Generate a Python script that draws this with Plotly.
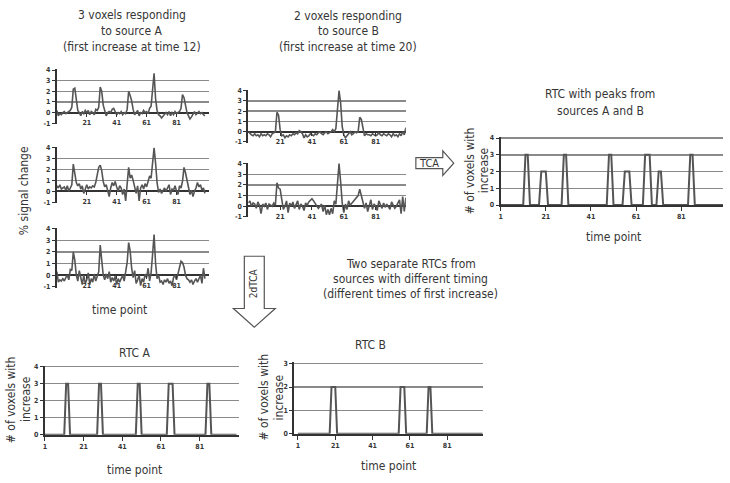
import plotly.graph_objects as go

W, H = 730, 483
FONT = "Liberation Sans Narrow, DejaVu Sans Condensed, Arial Narrow, sans-serif"
TXT = "#363636"
LINE = "#555555"
GRID = "#8a8a8a"
AX = "#333333"

time = list(range(1, 101))

voxel_a1 = [0.2, -0.3, -0.1, -0.2, 0.0, 0.1, -0.1, 0.0, 0.1, 0.2,
            0.5, 2.2, 2.3, 0.9, 0.2, 0.0, -0.3, 0.1, -0.1, 0.2,
            0.0, 0.2, -0.2, 0.1, 0.0, -0.2, 0.3, 0.2, 0.5, 2.4,
            2.0, 0.7, 0.1, -0.3, 0.0, 0.1, 0.0, 0.3, 0.4, 0.1,
            -0.2, 0.0, -0.1, 0.1, -0.2, 0.0, -0.1, 0.3, 2.0, 1.6,
            1.1, 0.3, -0.2, 0.0, 0.2, -0.3, 0.0, -0.1, 0.2, 0.0,
            0.1, -0.1, 0.4, 0.6, 2.5, 3.7, 1.3, 0.2, -0.2, -0.3,
            -0.5, -0.3, -0.1, 0.0, -0.2, 0.1, -0.3, 0.0, -0.2, 0.1,
            -0.1, 0.0, 0.1, 0.4, 1.7, 1.4, 0.7, 0.0, -0.3, -0.6,
            -0.4, -0.1, 0.1, -0.2, 0.0, 0.1, -0.1, 0.0, -0.2, -0.3]

voxel_a2 = [0.5, 0.3, 0.6, 0.2, 0.3, 0.4, 0.1, 0.5, 0.0, 0.3,
            0.6, 2.5, 1.8, 0.8, 0.5, 0.7, 0.2, 0.5, -0.2, 0.3,
            0.6, 0.2, 0.4, 0.3, 0.5, 0.4, 0.8, 1.5, 2.2, 2.4,
            1.9, 0.9, 0.4, 0.6, 0.0, -0.5, 0.3, 0.8, 0.5, 0.9,
            0.4, 0.0, 0.5, 0.3, -0.3, 0.2, -0.9, 0.4, 2.2, 1.2,
            1.5, 1.0, 0.3, -0.2, 0.5, -0.9, 0.3, 0.6, 0.2, 0.7,
            0.4, 1.0, 1.4, 1.2, 2.5, 4.0, 2.6, 0.8, -0.1, 0.2,
            -0.2, 0.1, 0.3, 0.0, 0.4, 0.6, -0.3, 0.2, 0.1, 0.5,
            0.0, -0.3, 0.5, 0.3, 0.9, 2.2, 1.7, 1.1, 0.5, -0.3,
            0.1, -0.5, 0.0, 0.3, 0.8, 0.4, 0.6, 0.1, 0.3, -0.2]

voxel_a3 = [0.3, -0.6, -0.4, -0.5, -0.3, -0.5, -0.2, 0.0, -0.4, 0.5,
            0.4, 2.0, 1.3, 0.0, -0.5, 0.4, -0.2, -0.8, 0.0, -0.7,
            -0.4, 0.2, -0.8, -0.3, -0.6, 0.1, -0.5, 0.0, 0.3, 2.6,
            1.2, 0.0, -0.4, 0.1, -0.3, 0.3, -0.6, -0.2, -0.5, -0.1,
            -0.8, -0.3, -0.6, -0.2, 0.0, -0.5, 0.4, 1.1, 2.8, 2.1,
            0.6, -0.2, 0.4, -0.7, -0.4, 0.0, -0.9, -0.3, -0.6, 0.1,
            -0.2, 0.6, -0.5, 0.2, 1.8, 3.5, 1.0, -0.3, 0.0, -0.6,
            -0.5, -0.8, -0.4, -0.6, -0.3, -0.7, -0.5, -0.9, -0.2, 0.0,
            -0.4, 0.2, 0.6, 1.2, 1.1, 0.7, 0.0, -0.3, -0.4, -0.6,
            -0.4, -0.8, -0.5, -0.3, -0.6, -0.2, 0.0, -0.7, 0.6, -0.3]

voxel_b1 = [0.0, -0.2, -0.3, -0.4, -0.2, -0.4, -0.3, -0.5, -0.2, -0.4,
            -0.3, -0.4, -0.2, -0.3, -0.5, -0.2, -0.1, 0.0, 1.9, 1.6,
            0.2, -0.4, -0.3, -0.6, -0.4, -0.5, -0.3, -0.4, -0.2, -0.3,
            -0.1, -0.2, 0.1, 0.0, -0.2, -0.6, -0.3, -0.5, -0.4, -0.2,
            -0.3, -0.4, -0.2, -0.3, -0.1, 0.0, -0.2, -0.3, -0.1, 0.0,
            -0.2, -0.1, 0.0, 0.2, 0.0, 0.3, 2.5, 4.0, 2.8, 0.5,
            -0.3, -0.6, -0.4, -0.2, 0.0, -0.3, -0.2, 0.0, -0.1, 0.0,
            1.4, 1.2, 0.3, -0.4, -0.2, -0.3, -0.3, -0.4, -0.2, -0.3,
            -0.4, -0.3, -0.1, -0.3, -0.4, -0.2, -0.3, -0.4, -0.2, -0.3,
            -0.5, -0.2, -0.4, -0.3, -0.5, -0.2, -0.4, 0.0, -0.3, 0.4]

voxel_b2 = [0.3, 0.5, 0.0, 0.3, 0.2, -0.2, 0.4, 0.1, -0.7, 0.2,
            0.0, 0.3, -0.3, 0.2, 0.1, 0.0, 0.3, 0.1, 2.2, 1.7,
            1.6, 0.4, -0.3, 0.0, 0.5, -0.6, 0.3, 0.0, 0.4, -0.2,
            0.1, 0.5, -0.3, 0.2, 0.0, -0.4, 0.3, 0.1, 0.4, 0.6,
            0.7, 0.5, 0.3, 0.1, -0.2, 0.0, 0.2, -0.5, 0.1, -0.8,
            -0.3, -0.8, -0.2, -0.7, 0.5, 0.2, 1.8, 4.0, 2.3, 0.3,
            -0.6, 0.2, -0.3, 0.5, 0.1, 0.3, 0.4, 0.6, 0.8, 1.0,
            1.6, 1.1, 0.4, -0.2, 0.3, -0.5, 0.0, 0.6, -0.3, 0.2,
            0.0, -0.4, 0.5, 0.1, -0.2, 0.3, -0.1, 0.2, 0.0, -0.3,
            0.4, 0.1, -0.2, 0.0, 0.3, 0.6, -0.7, 0.9, -0.5, 0.8]

rtc_all = [0, 0, 0, 0, 0, 0, 0, 0, 0, 0,
           0, 3, 3, 0, 0, 0, 0, 0, 2, 2,
           2, 0, 0, 0, 0, 0, 0, 0, 3, 3,
           0, 0, 0, 0, 0, 0, 0, 0, 0, 0,
           0, 0, 0, 0, 0, 0, 0, 0, 3, 3,
           0, 0, 0, 0, 0, 2, 2, 2, 0, 0,
           0, 0, 0, 0, 3, 3, 3, 0, 0, 0,
           2, 2, 0, 0, 0, 0, 0, 0, 0, 0,
           0, 0, 0, 0, 3, 3, 0, 0, 0, 0,
           0, 0, 0, 0, 0, 0, 0, 0, 0, 0]

rtc_a = [0, 0, 0, 0, 0, 0, 0, 0, 0, 0,
         0, 3, 3, 0, 0, 0, 0, 0, 0, 0,
         0, 0, 0, 0, 0, 0, 0, 0, 3, 3,
         0, 0, 0, 0, 0, 0, 0, 0, 0, 0,
         0, 0, 0, 0, 0, 0, 0, 0, 3, 3,
         0, 0, 0, 0, 0, 0, 0, 0, 0, 0,
         0, 0, 0, 0, 3, 3, 3, 0, 0, 0,
         0, 0, 0, 0, 0, 0, 0, 0, 0, 0,
         0, 0, 0, 0, 3, 3, 0, 0, 0, 0,
         0, 0, 0, 0, 0, 0, 0, 0, 0, 0]

rtc_b = [0, 0, 0, 0, 0, 0, 0, 0, 0, 0,
         0, 0, 0, 0, 0, 0, 0, 0, 2, 2,
         2, 0, 0, 0, 0, 0, 0, 0, 0, 0,
         0, 0, 0, 0, 0, 0, 0, 0, 0, 0,
         0, 0, 0, 0, 0, 0, 0, 0, 0, 0,
         0, 0, 0, 0, 0, 2, 2, 2, 0, 0,
         0, 0, 0, 0, 0, 0, 0, 0, 0, 0,
         2, 2, 0, 0, 0, 0, 0, 0, 0, 0,
         0, 0, 0, 0, 0, 0, 0, 0, 0, 0,
         0, 0, 0, 0, 0, 0, 0, 0, 0, 0]

voxel_xticks = [21, 41, 61, 81]
rtc_xticks = [1, 21, 41, 61, 81]
voxel_yticks = [-1, 0, 1, 2, 3, 4]
rtc4_yticks = [0, 1, 2, 3, 4]
rtc3_yticks = [0, 1, 2, 3]


def px(x):
    return x / W


def py(y):
    return 1 - y / H


# key, series, x-pixel start, x-pixel end, x-range, pixel of top tick, pixel of bottom tick, kind
panels = [
    ("1", voxel_a1, 55, 208, [1, 103], 68, 122, "voxel"),
    ("2", voxel_a2, 55, 208, [1, 103], 147, 202, "voxel"),
    ("3", voxel_a3, 55, 208, [1, 103], 229, 288, "voxel"),
    ("4", voxel_b1, 247, 405, [1, 100], 89, 141, "voxel"),
    ("5", voxel_b2, 247, 405, [1, 100], 163, 217, "voxel"),
    ("6", rtc_all, 500, 723, [1, 99.5], 137, 205, "rtc4"),
    ("7", rtc_a, 43, 238, [1, 101.5], 369, 438, "rtc4"),
    ("8", rtc_b, 293, 482, [-1, 100], 366, 437, "rtc3"),
]

fig = go.Figure()
layout = {}
tickfont = dict(family=FONT, size=7, color=TXT, weight="bold")

for key, series, x0, x1, xr, ytop, ybot, kind in panels:
    xn = "xaxis" if key == "1" else "xaxis" + key
    yn = "yaxis" if key == "1" else "yaxis" + key
    xref = "x" if key == "1" else "x" + key
    yref = "y" if key == "1" else "y" + key
    if kind == "voxel":
        lo, hi = -1, 4
        yt = voxel_yticks
        lw = 1.6
    elif kind == "rtc4":
        lo, hi = 0, 4
        yt = rtc4_yticks
        lw = 2
    else:
        lo, hi = 0, 3
        yt = rtc3_yticks
        lw = 2
    ppu = (ybot - ytop) / (hi - lo)
    pad = 0.06
    if kind == "voxel":
        yrange = [lo - pad, hi + pad]
        dom = [py(ybot + pad * ppu), py(ytop - pad * ppu)]
    else:
        yrange = [lo, hi + pad]
        dom = [py(ybot), py(ytop - pad * ppu)]
    fig.add_trace(go.Scatter(x=time, y=series, mode="lines", xaxis=xref, yaxis=yref,
                             line=dict(color=LINE, width=lw), showlegend=False,
                             hoverinfo="skip"))
    xa = dict(domain=[px(x0), px(x1)], range=xr, showgrid=False, zeroline=False,
              tickmode="array", tickfont=tickfont, ticks="outside", ticklen=3,
              tickcolor=AX, tickwidth=1)
    if kind == "voxel":
        zero_px = ytop + (0 - hi) * -ppu
        xa.update(anchor="free", position=py(zero_px), showline=False,
                  tickvals=voxel_xticks, ticktext=[str(v) for v in voxel_xticks])
    else:
        xa.update(anchor=yref, showline=True, linecolor=AX, linewidth=2,
                  tickvals=rtc_xticks, ticktext=[str(v) for v in rtc_xticks], ticklen=4)
    ya = dict(domain=dom, range=yrange, anchor=xref, showline=True, linecolor=AX,
              linewidth=2, showgrid=True, gridcolor=GRID, gridwidth=1.5,
              zeroline=(kind == "voxel"), zerolinecolor=AX, zerolinewidth=2,
              tickmode="array", tickvals=yt, ticktext=[str(v) for v in yt],
              tickfont=tickfont, ticks="outside", ticklen=3, tickcolor=AX)
    layout[xn] = xa
    layout[yn] = ya

annotations = []


def txt(x, y, s, size=12, angle=0):
    annotations.append(dict(x=px(x), y=py(y), xref="paper", yref="paper", text=s,
                            showarrow=False, textangle=angle,
                            font=dict(family=FONT, size=size, color=TXT),
                            xanchor="center", yanchor="middle"))


txt(130, 12, "3 voxels responding")
txt(130, 28, "to source A")
txt(130, 45, "(first increase at time 12)")
txt(347, 13, "2 voxels responding")
txt(347, 28, "to source B")
txt(347, 45, "(first increase at time 20)")
txt(600, 92, "RTC with peaks from")
txt(600, 110, "sources A and B")
txt(613, 237, "time point")
txt(22, 190, "% signal change", angle=-90)
txt(118, 312, "time point")
txt(410, 265, "Two separate RTCs from")
txt(410, 280, "sources with different timing")
txt(410, 295, "(different times of first increase)")
txt(133, 355, "RTC A")
txt(370, 347, "RTC B")
txt(133, 474, "time point")
txt(388, 470, "time point")
txt(469, 170, "# of voxels with", angle=-90)
txt(483, 170, "increase", angle=-90)
txt(9, 402, "# of voxels with", angle=-90)
txt(24, 402, "increase", angle=-90)
txt(263, 400, "# of voxels with", angle=-90)
txt(278, 400, "increase", angle=-90)
txt(428, 163, "TCA", size=11)
txt(253, 284, "2dTCA", size=10, angle=-90)


def path(points):
    return "M " + " L ".join(f"{px(a):.5f},{py(b):.5f}" for a, b in points) + " Z"


shapes = [
    dict(type="path", xref="paper", yref="paper",
         path=path([(415, 157), (442, 157), (442, 150), (453, 162.5),
                    (442, 175), (442, 168), (415, 168)]),
         line=dict(color="#555555", width=1.2), fillcolor="white"),
    dict(type="path", xref="paper", yref="paper",
         path=path([(243, 257), (263, 257), (263, 310), (274, 310),
                    (253, 329), (232, 310), (243, 310)]),
         line=dict(color="#555555", width=1.2), fillcolor="white"),
]

fig.update_layout(width=W, height=H, margin=dict(l=0, r=0, t=0, b=0),
                  paper_bgcolor="white", plot_bgcolor="white",
                  annotations=annotations, shapes=shapes, showlegend=False,
                  **layout)
fig.write_html("out.html", config={"displayModeBar": False, "staticPlot": True},
               post_script="document.body.style.margin='0';document.body.style.overflow='hidden';")
